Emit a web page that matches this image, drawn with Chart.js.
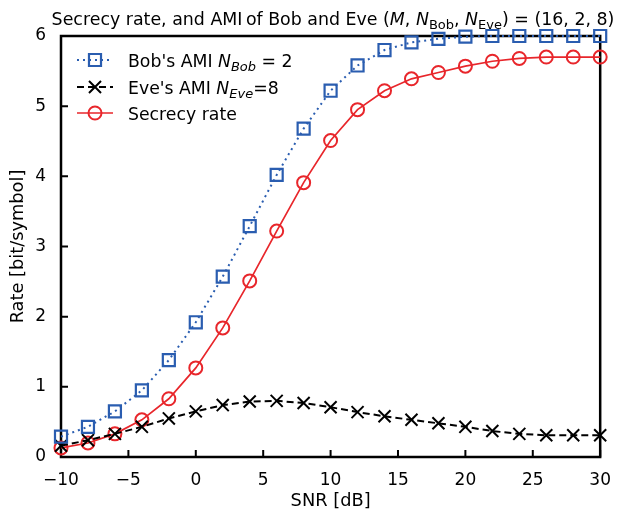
<!DOCTYPE html>
<html><head><meta charset="utf-8">
<script src="https://cdn.jsdelivr.net/npm/chart.js@4"></script>
<style>html,body{margin:0;padding:0;background:#fff}#wrap{width:624px;height:513px;position:relative}</style>
</head><body><div id="wrap"><canvas id="c"></canvas></div>
<script>
const snr = [-10,-8,-6,-4,-2,0,2,4,6,8,10,12,14,16,18,20,22,24,26,28,30];
const bobAMI = [0.29,0.43,0.65,0.95,1.38,1.92,2.57,3.29,4.02,4.68,5.22,5.58,5.80,5.91,5.96,5.99,6.0,6.0,6.0,6.0,6.0];
const eveAMI = [0.16,0.24,0.33,0.43,0.55,0.65,0.74,0.79,0.80,0.77,0.71,0.64,0.58,0.53,0.48,0.43,0.37,0.33,0.31,0.31,0.31];
const secrecyRate = [0.13,0.20,0.33,0.53,0.83,1.27,1.84,2.51,3.22,3.91,4.51,4.95,5.22,5.39,5.48,5.57,5.64,5.68,5.70,5.70,5.70];
const xTicks = [-10,-5,0,5,10,15,20,25,30];
const yTicks = [0,1,2,3,4,5,6];
const xLabel = 'SNR [dB]';
const yLabel = 'Rate [bit/symbol]';

const FONT = "'DejaVu Sans', Verdana, sans-serif";
const BLUE = '#2a5db0', RED = '#e8262b', BLACK = '#000';

const pts = ys => snr.map((x, i) => ({x, y: ys[i]}));

function drawRuns(ctx, runs, x, y, align) {
  // runs: [text, size, italic, dy]
  let total = 0;
  for (const r of runs) { ctx.font = (r[2] ? 'italic ' : '') + r[1] + 'px ' + FONT; total += ctx.measureText(r[0]).width; }
  let cx = align === 'center' ? x - total / 2 : x;
  ctx.textAlign = 'left'; ctx.textBaseline = 'alphabetic';
  for (const r of runs) {
    ctx.font = (r[2] ? 'italic ' : '') + r[1] + 'px ' + FONT;
    ctx.fillText(r[0], cx, y + (r[3] || 0));
    cx += ctx.measureText(r[0]).width;
  }
}

const decor = {
  id: 'decor',
  beforeDatasetsDraw(chart) {
    const {ctx, chartArea: a, scales} = chart;
    ctx.save();
    ctx.strokeStyle = BLACK; ctx.lineWidth = 2.5;
    ctx.strokeRect(a.left, a.top, a.right - a.left, a.bottom - a.top);
    ctx.lineWidth = 2;
    ctx.beginPath();
    xTicks.forEach(v => { const p = scales.x.getPixelForValue(v); ctx.moveTo(p, a.bottom); ctx.lineTo(p, a.bottom - 7); });
    yTicks.forEach(v => { const p = scales.y.getPixelForValue(v); ctx.moveTo(a.left, p); ctx.lineTo(a.left + 7, p); });
    ctx.stroke();
    ctx.restore();
  },
  afterDraw(chart) {
    const {ctx, chartArea: a} = chart;
    ctx.save();
    ctx.fillStyle = BLACK;
    // title
    drawRuns(ctx, [
      ['Secrecy rate, and AMI\u2009of Bob and Eve (', 17.4, false],
      ['M', 17.4, true], [', ', 17.4, false], ['N', 17.4, true], ['Bob', 13, false, 4],
      [', ', 17.4, false], ['N', 17.4, true], ['Eve', 13, false, 4],
      [') = (16, 2, 8)', 17.4, false]
    ], 333, 25, 'center');
    // axis titles
    ctx.font = '17.8px ' + FONT; ctx.textAlign = 'center'; ctx.textBaseline = 'middle';
    ctx.fillText(xLabel, (a.left + a.right) / 2, 501);
    ctx.save(); ctx.translate(18, (a.top + a.bottom) / 2); ctx.rotate(-Math.PI / 2);
    ctx.fillText(yLabel, 0, 0); ctx.restore();
    // legend
    const ds = chart.data.datasets;
    const rows = [
      [['Bob\'s AMI ', 17.3, false], ['N', 17.3, true], ['Bob', 13, true, 4], [' = 2', 17.3, false]],
      [['Eve\'s AMI ', 17.3, false], ['N', 17.3, true], ['Eve', 13, true, 4], ['=8', 17.3, false]],
      [['Secrecy rate', 17.3, false]]
    ];
    const ys = [60, 87, 113];
    rows.forEach((r, i) => {
      const d = ds[i], y = ys[i];
      ctx.save();
      ctx.strokeStyle = d.borderColor; ctx.lineWidth = d.borderWidth;
      ctx.setLineDash(d.borderDash || []);
      ctx.beginPath(); ctx.moveTo(77, y); ctx.lineTo(113, y); ctx.stroke();
      ctx.setLineDash([]);
      ctx.strokeStyle = d.pointBorderColor; ctx.fillStyle = 'rgba(0,0,0,0)';
      ctx.lineWidth = d.pointBorderWidth;
      Chart.helpers.drawPoint(ctx, {pointStyle: d.pointStyle, rotation: 0, radius: d.pointRadius, borderWidth: d.pointBorderWidth}, 95, y);
      ctx.restore();
      ctx.fillStyle = BLACK;
      drawRuns(ctx, r, 128, y + 6.5, 'left');
    });
    ctx.restore();
  }
};

new Chart(document.getElementById('c'), {
  type: 'line',
  data: {
    datasets: [
      {label: 'Bob', data: pts(bobAMI), borderColor: BLUE, borderWidth: 2, borderDash: [2, 4],
       pointStyle: 'rect', pointRadius: 8.5, pointBorderWidth: 2.2, pointBorderColor: BLUE, pointBackgroundColor: 'rgba(0,0,0,0)', clip: false},
      {label: 'Eve', data: pts(eveAMI), borderColor: BLACK, borderWidth: 2, borderDash: [7, 4],
       pointStyle: 'crossRot', pointRadius: 8.5, pointBorderWidth: 2, pointBorderColor: BLACK, pointBackgroundColor: 'rgba(0,0,0,0)', clip: false},
      {label: 'Secrecy', data: pts(secrecyRate), borderColor: RED, borderWidth: 1.7,
       pointStyle: 'circle', pointRadius: 6.5, pointBorderWidth: 2, pointBorderColor: RED, pointBackgroundColor: 'rgba(0,0,0,0)', clip: false}
    ]
  },
  options: {
    responsive: true, maintainAspectRatio: false, animation: false,
    layout: {padding: {left: 0, top: 36, right: 13, bottom: 0}},
    plugins: {legend: {display: false}, title: {display: false}, tooltip: {enabled: false}},
    elements: {line: {tension: 0}},
    scales: {
      x: {type: 'linear', min: -10, max: 30,
          afterFit: s => { s.height = 56; },
          afterBuildTicks: s => { s.ticks = xTicks.map(v => ({value: v})); },
          grid: {display: false, drawTicks: false}, border: {display: false},
          ticks: {padding: 13, color: BLACK, font: {family: FONT, size: 17}, maxRotation: 0,
                  callback: v => (v < 0 ? '\u2212' + Math.abs(v) : String(v))}},
      y: {type: 'linear', min: 0, max: 6,
          afterFit: s => { s.width = 61; },
          afterBuildTicks: s => { s.ticks = yTicks.map(v => ({value: v})); },
          grid: {display: false, drawTicks: false}, border: {display: false},
          ticks: {padding: 15, color: BLACK, font: {family: FONT, size: 17}}}
    }
  },
  plugins: [decor]
});
</script>
</body></html>
